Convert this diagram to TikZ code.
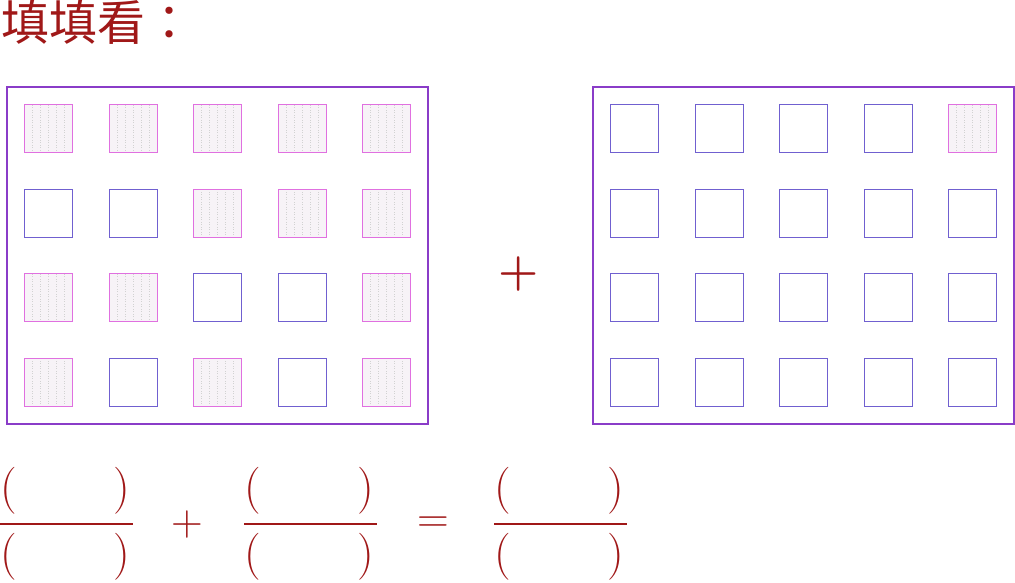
\documentclass[tikz,border=0pt]{standalone}
\usepackage{fontspec}
\newfontfamily\cjk{Noto Sans CJK TC}
\definecolor{darkred}{HTML}{A01818}
\definecolor{boxpurple}{HTML}{8A3CC8}
\definecolor{cellblue}{HTML}{7060D0}
\definecolor{cellpink}{HTML}{E070E0}
\definecolor{cellfill}{HTML}{F7F3F7}
\tikzset{
  outerbox/.style={draw=boxpurple, line width=1.8pt, minimum width=421pt, minimum height=337pt, inner sep=0pt},
  cellbox/.style={draw=cellblue, line width=0.8pt, minimum size=48pt, inner sep=0pt},
  shadecell/.style={draw=cellpink, line width=0.8pt, fill=cellfill, minimum size=48pt, inner sep=0pt,
    path picture={
      \foreach \dx in {-16,-8,0,8,16}
        \draw[gray!35, dotted, line width=0.5pt] ([xshift=\dx pt]path picture bounding box.south) -- ([xshift=\dx pt]path picture bounding box.north);
    }},
  fracline/.style={draw=darkred, line width=1.6pt},
  paren/.style={text=darkred, inner sep=0pt, font=\fontsize{47}{47}\selectfont},
  opsym/.style={text=darkred, inner sep=0pt, font=\fontsize{44}{44}\selectfont},
}
\begin{document}
\begin{tikzpicture}[x=1pt,y=-1pt]
\useasboundingbox (0,0) rectangle (1015,582);
% title
\node[anchor=base west, inner sep=0pt, text height=38pt, text depth=5pt, text=darkred, font=\cjk\fontsize{48}{48}\selectfont] (title) at (1,40) {填填看：};
% outer boxes
\node[outerbox] (L) at (217.5,255.5) {};
\node[outerbox] (R) at (803.5,255.5) {};
% cells
\foreach \c/\x in {1/48.5,2/133,3/217.5,4/302,5/386.5}{
  \foreach \r/\y in {1/128.5,2/213,3/297.5,4/382}{
    \node[cellbox] (L\r\c) at (\x,\y) {};
  }
}
\foreach \c/\x in {1/634.5,2/719,3/803.5,4/888,5/972.5}{
  \foreach \r/\y in {1/128.5,2/213,3/297.5,4/382}{
    \node[cellbox] (R\r\c) at (\x,\y) {};
  }
}
% shaded cells
\foreach \r/\c in {1/1,1/2,1/3,1/4,1/5,2/3,2/4,2/5,3/1,3/2,3/5,4/1,4/3,4/5}{
  \node[shadecell] at (L\r\c) {};
}
\node[shadecell] at (R15) {};
% middle plus
\node[text=darkred, inner sep=0pt, font=\bfseries\fontsize{46}{46}\selectfont] (plus) at (519,274) {+};
% fractions
\foreach \n/\x in {1/0,2/244,3/494}{
  \coordinate (f\n a) at (\x,524);
  \coordinate (f\n b) at (\x+133,524);
  \draw[fracline] (f\n a) -- (f\n b);
  \node[paren] (f\n tl) at (\x+9,491) {(};
  \node[paren] (f\n tr) at (\x+121.5,491) {)};
  \node[paren] (f\n bl) at (\x+9,557) {(};
  \node[paren] (f\n br) at (\x+121.5,557) {)};
}
\node[opsym] (op1) at (187,525) {+};
\node[opsym] (op2) at (433,525) {=};
\end{tikzpicture}
\end{document}
